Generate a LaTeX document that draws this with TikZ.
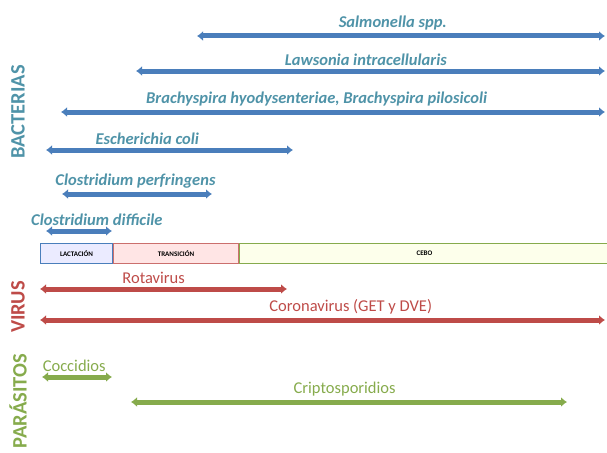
\documentclass[tikz,border=0pt]{standalone}
\usepackage{fontspec}
\setmainfont{Carlito}
\usetikzlibrary{arrows.meta,positioning}
\definecolor{bactblue}{HTML}{4A7EBB}
\definecolor{bactteal}{HTML}{4F93A8}
\definecolor{virred}{HTML}{BE4B48}
\definecolor{pargreen}{HTML}{86AB4C}
\begin{document}
\begin{tikzpicture}
[x=1pt,y=-1pt,
 span/.style={line width=5pt,{Latex[length=6pt,width=10pt]}-{Latex[length=6pt,width=10pt]}},
 bact/.style={span,bactblue},
 vir/.style={span,virred},
 par/.style={span,pargreen},
 bname/.style={above=3pt,inner sep=0pt,text=bactteal,font=\fontsize{16.5}{18}\selectfont\bfseries\itshape},
 vname/.style={above=3pt,inner sep=0pt,text=virred,font=\fontsize{16.5}{18}\selectfont},
 pname/.style={above=3pt,inner sep=0pt,text=pargreen,font=\fontsize{16.5}{18}\selectfont},
 group/.style={rotate=90,inner sep=0pt,font=\fontsize{20.5}{23}\selectfont\bfseries},
 phase/.style={rectangle,draw,line width=1pt,minimum height=20pt,inner sep=0pt,anchor=west,font=\fontsize{7}{8}\selectfont\bfseries}]
\useasboundingbox (0,0) rectangle (607,452);

% bacterias
\node [group,text=bactteal] (bacterias) at (18,112) {BACTERIAS};
\coordinate (salm-l) at (197,36);  \coordinate (salm-r) at (605,36);
\coordinate (laws-l) at (136,71);  \coordinate (laws-r) at (605,71);
\coordinate (brac-l) at (61,112);  \coordinate (brac-r) at (605,112);
\coordinate (ecol-l) at (46,150);  \coordinate (ecol-r) at (293,150);
\coordinate (cper-l) at (62,194);  \coordinate (cper-r) at (212,194);
\coordinate (cdif-l) at (46,231);  \coordinate (cdif-r) at (112,231);
\draw [bact] (salm-l) -- node [bname,pos=0.48] (salm) {Salmonella spp.} (salm-r);
\draw [bact] (laws-l) -- node [bname,pos=0.49] (laws) {Lawsonia intracellularis} (laws-r);
\draw [bact] (brac-l) -- node [bname,pos=0.47] (brac) {Brachyspira hyodysenteriae, Brachyspira pilosicoli} (brac-r);
\draw [bact] (ecol-l) -- node [bname,pos=0.41] (ecol) {Escherichia coli} (ecol-r);
\draw [bact] (cper-l) -- node [bname,pos=0.49] (cper) {Clostridium perfringens} (cper-r);
\draw [bact] (cdif-l) -- node [bname,pos=0.77] (cdif) {Clostridium difficile} (cdif-r);

% fases
\node [phase,draw=bactblue,fill=blue!8,minimum width=72pt] (lact) at (40,253.5) {LACTACIÓN};
\node [phase,draw=virred!80,fill=red!10,minimum width=125pt,right=0pt of lact] (trans) {TRANSICIÓN};
\node [phase,draw=pargreen,fill=green!10!yellow!8,minimum width=370pt,right=0pt of trans] (cebo) {CEBO};

% virus
\node [group,text=virred] (virus) at (18,307) {VIRUS};
\coordinate (rota-l) at (40,289);  \coordinate (rota-r) at (287,289);
\coordinate (coro-l) at (40,320);  \coordinate (coro-r) at (605,320);
\draw [vir] (rota-l) -- node [vname,pos=0.46] (rota) {Rotavirus} (rota-r);
\draw [vir] (coro-l) -- node [vname,pos=0.55] (coro) {Coronavirus (GET y DVE)} (coro-r);

% parasitos
\node [group,text=pargreen] (parasitos) at (18,401) {PARÁSITOS};
\coordinate (cocc-l) at (42,377);  \coordinate (cocc-r) at (112,377);
\coordinate (crip-l) at (131,402); \coordinate (crip-r) at (567,402);
\draw [par] (cocc-l) -- node [pname,pos=0.46] (cocc) {Coccidios} (cocc-r);
\draw [par] (crip-l) -- node [pname,pos=0.49] (crip) {Criptosporidios} (crip-r);
\end{tikzpicture}
\end{document}
